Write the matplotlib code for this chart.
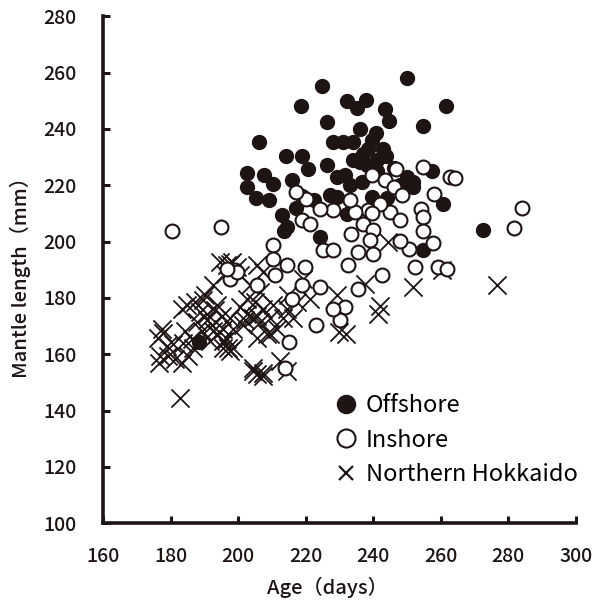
import matplotlib
matplotlib.use("Agg")
import matplotlib.pyplot as plt
from matplotlib.lines import Line2D

plt.rcParams['font.family'] = ['Noto Sans CJK JP', 'DejaVu Sans']

# Offshore squid: age (days), mantle length (mm)
offshore_age = [249.9, 224.8, 218.6, 232.2, 235.1, 237.8, 243.4, 244.6, 261.5, 226.3,
                254.7, 206.2, 228.0, 231.0, 234.0, 239.6, 240.8, 238.4, 243.7, 214.1,
                218.9, 226.3, 236.0, 238.1, 202.6, 207.6, 210.3, 202.6, 205.3, 209.1,
                215.9, 220.7, 229.2, 231.6, 233.1, 236.6, 249.9, 251.7, 251.7, 257.3,
                260.6, 213.0, 213.6, 214.4, 224.2, 272.5, 254.7, 188.4, 222.4, 227.2,
                229.2, 232.2, 239.6, 244.0, 241.0, 246.0, 248.0, 219.0, 217.0, 234.0,
                237.0, 241.0, 243.0, 236.0]
offshore_len = [258.0, 255.2, 248.1, 249.9, 247.4, 250.3, 247.1, 242.9, 248.1, 242.5,
                241.1, 235.4, 235.4, 235.4, 235.4, 236.2, 238.6, 233.0, 230.2, 230.2,
                230.5, 227.3, 228.4, 227.3, 224.5, 223.5, 220.3, 219.2, 215.3, 214.6,
                221.7, 225.6, 222.8, 223.5, 219.9, 221.0, 222.8, 221.0, 219.2, 225.2,
                213.2, 209.3, 203.7, 205.1, 201.6, 204.0, 197.0, 164.5, 214.6, 216.4,
                215.7, 209.7, 215.7, 215.3, 225.0, 226.0, 220.0, 216.0, 212.0, 229.0,
                231.0, 229.0, 233.0, 240.0]

# Inshore squid
inshore_age = [180.4, 194.9, 284.0, 281.6, 262.7, 264.1, 246.7, 254.7, 239.6, 243.4,
               246.1, 248.5, 257.9, 254.1, 254.7, 254.7, 257.6, 250.5, 247.9, 244.9,
               247.9, 242.0, 238.4, 236.9, 239.9, 239.0, 235.4, 239.9, 233.4, 234.6,
               228.0, 224.2, 220.1, 218.9, 221.2, 225.1, 228.0, 232.5, 252.3, 259.1,
               261.8, 242.5, 235.4, 224.2, 218.9, 231.6, 219.8, 217.1, 233.1, 239.6,
               230.1, 228.0, 223.0, 210.3, 210.3, 214.4, 199.1, 205.6, 215.0, 213.8,
               215.9, 197.6, 199.6, 211.0, 196.7]
inshore_len = [203.7, 205.1, 211.8, 204.8, 222.8, 222.5, 225.6, 226.6, 223.5, 222.0,
               219.2, 216.4, 216.8, 211.5, 208.6, 203.7, 199.5, 197.4, 200.2, 210.4,
               207.6, 213.2, 211.1, 206.2, 204.1, 200.5, 196.3, 195.6, 202.6, 210.4,
               211.1, 211.5, 215.0, 207.6, 206.2, 197.0, 197.0, 191.7, 191.0, 191.0,
               190.3, 188.2, 183.2, 183.9, 184.7, 176.9, 191.0, 217.5, 214.6, 210.0,
               172.3, 176.2, 170.2, 198.8, 193.8, 191.7, 190.0, 184.7, 164.5, 155.0,
               179.7, 186.8, 189.2, 188.0, 190.3]

# Northern Hokkaido squid
north_age = [177.5, 176.6, 182.8, 183.4, 179.2, 180.7, 185.1, 184.3, 187.8, 190.8,
             193.7, 192.5, 196.7, 197.6, 195.5, 198.5, 204.4, 207.3, 205.6, 209.4,
             202.0, 212.4, 197.6, 199.6, 200.5, 196.1, 189.6, 184.9, 183.4, 188.7,
             193.1, 195.2, 197.6, 190.8, 192.2, 195.5, 198.5, 201.4, 193.7, 195.5,
             197.0, 191.7, 186.3, 189.3, 177.8, 176.3, 178.9, 176.9, 181.3, 183.7,
             186.6, 205.6, 207.3, 203.5, 206.4, 205.0, 202.6, 204.4, 207.3, 210.3,
             206.4, 209.4, 211.5, 208.5, 205.6, 213.3, 214.4, 216.2, 217.4, 214.7,
             202.6, 200.5, 204.4, 207.3, 205.6, 214.4, 244.3, 237.5, 251.7, 260.3,
             242.0, 229.2, 221.2, 219.2, 241.4, 230.0, 232.0, 276.6, 196.7, 194.6,
             198.2, 192.5, 190.2, 187.2]
north_len = [168.8, 156.8, 144.4, 156.8, 159.3, 163.5, 159.3, 168.1, 171.6, 174.4,
             177.6, 168.1, 165.3, 161.0, 162.1, 162.1, 154.0, 152.2, 173.4, 167.0,
             172.3, 157.5, 192.1, 191.0, 188.2, 188.5, 179.4, 177.6, 176.2, 175.1,
             175.8, 173.4, 172.7, 172.3, 170.5, 169.1, 169.1, 170.5, 167.0, 164.6,
             162.1, 164.6, 165.3, 168.1, 167.4, 165.6, 162.8, 159.3, 158.2, 163.8,
             162.1, 191.7, 189.2, 184.7, 182.2, 178.7, 174.4, 172.7, 176.2, 177.6,
             171.6, 172.7, 168.8, 167.0, 165.6, 172.7, 176.2, 172.7, 178.7, 181.1,
             179.7, 176.9, 155.0, 153.3, 152.9, 154.0, 199.8, 185.0, 184.0, 190.0,
             177.0, 181.1, 179.7, 186.8, 174.4, 168.0, 167.0, 184.7, 191.7, 192.8,
             192.8, 184.7, 181.1, 178.7]

x_ticks = [160, 180, 200, 220, 240, 260, 280, 300]
y_ticks = [100, 120, 140, 160, 180, 200, 220, 240, 260, 280]

ink = '#1e1414'

fig = plt.figure(figsize=(5.93, 6.0), dpi=100)
ax = fig.add_axes([0.174, 0.128, 0.797, 0.845])

ax.scatter(north_age, north_len, marker='x', s=170, c=ink, linewidths=1.3, zorder=2)
ax.scatter(offshore_age, offshore_len, marker='o', s=100, c=ink, edgecolors=ink,
           linewidths=1.0, zorder=3)
ax.scatter(inshore_age, inshore_len, marker='o', s=100, facecolors='white',
           edgecolors=ink, linewidths=1.5, zorder=4)

ax.set_xlim(160, 300)
ax.set_ylim(100, 280)
ax.set_xticks(x_ticks)
ax.set_yticks(y_ticks)
ax.tick_params(direction='in', length=5, width=2.2, labelsize=14, colors=ink)
ax.tick_params(axis='x', pad=17)
ax.tick_params(axis='y', pad=19)
for lab in ax.get_xticklabels() + ax.get_yticklabels():
    lab.set_fontweight('medium')
for side in ('top', 'right'):
    ax.spines[side].set_visible(False)
for side in ('left', 'bottom'):
    ax.spines[side].set_linewidth(2.6)
    ax.spines[side].set_color(ink)

ax.set_xlabel('Age（days）', fontsize=14.5, color=ink, labelpad=4, fontweight='medium')
ax.xaxis.set_label_coords(0.475, -0.105)
ax.set_ylabel('Mantle length（mm）', fontsize=14.5, color=ink, fontweight='medium')
ax.yaxis.set_label_coords(-0.152, 0.495)

handles = [
    Line2D([], [], ls='none', marker='o', ms=13, mfc=ink, mec=ink),
    Line2D([], [], ls='none', marker='o', ms=13, mfc='white', mec=ink, mew=1.5),
    Line2D([], [], ls='none', marker='x', ms=10, mec=ink, mew=1.6),
]
ax.legend(handles, ['Offshore', 'Inshore', 'Northern Hokkaido'],
          loc='lower right', bbox_to_anchor=(1.024, 0.054), frameon=False,
          fontsize=17, handletextpad=0.3, labelspacing=0.5,
          handlelength=1.1, borderaxespad=0)

fig.savefig('out.png', dpi=100)
